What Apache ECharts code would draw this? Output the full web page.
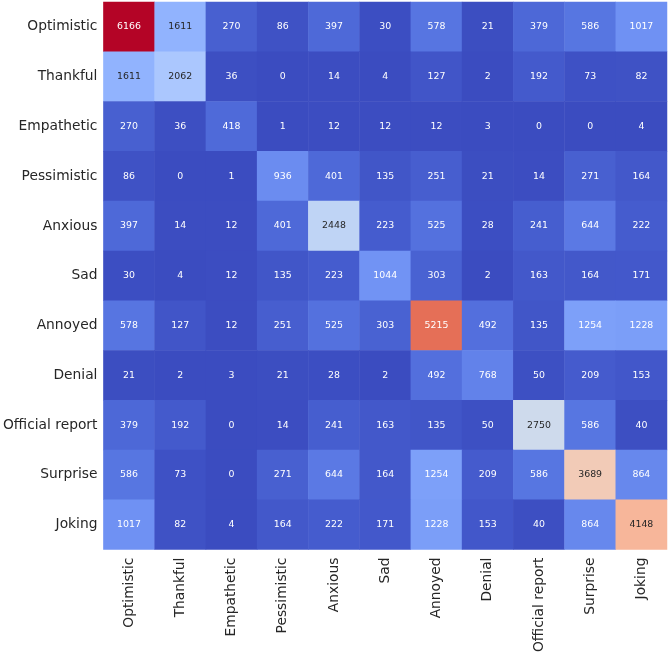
<!DOCTYPE html>
<html>
<head>
<meta charset="utf-8">
<script src="https://cdn.jsdelivr.net/npm/echarts@6/dist/echarts.min.js"></script>
<style>html,body{margin:0;padding:0;background:#fff;}#chart{width:669px;height:655px;}</style>
</head>
<body>
<div id="chart"></div>
<script>
const categories = ["Optimistic","Thankful","Empathetic","Pessimistic","Anxious","Sad","Annoyed","Denial","Official report","Surprise","Joking"];
const rowOptimistic    = [6166,1611,270,86,397,30,578,21,379,586,1017];
const rowThankful      = [1611,2062,36,0,14,4,127,2,192,73,82];
const rowEmpathetic    = [270,36,418,1,12,12,12,3,0,0,4];
const rowPessimistic   = [86,0,1,936,401,135,251,21,14,271,164];
const rowAnxious       = [397,14,12,401,2448,223,525,28,241,644,222];
const rowSad           = [30,4,12,135,223,1044,303,2,163,164,171];
const rowAnnoyed       = [578,127,12,251,525,303,5215,492,135,1254,1228];
const rowDenial        = [21,2,3,21,28,2,492,768,50,209,153];
const rowOfficial      = [379,192,0,14,241,163,135,50,2750,586,40];
const rowSurprise      = [586,73,0,271,644,164,1254,209,586,3689,864];
const rowJoking        = [1017,82,4,164,222,171,1228,153,40,864,4148];
const rows = [rowOptimistic,rowThankful,rowEmpathetic,rowPessimistic,rowAnxious,rowSad,rowAnnoyed,rowDenial,rowOfficial,rowSurprise,rowJoking];

// matplotlib coolwarm (Moreland) anchor table
const cw = [[59,76,192],[68,90,204],[77,104,215],[87,117,225],[98,130,234],[108,142,241],[119,154,247],[130,165,251],[141,176,254],[152,185,255],[163,194,255],[174,201,253],[184,208,249],[194,213,244],[204,217,238],[213,219,230],[221,221,221],[229,216,209],[236,211,197],[241,204,185],[245,196,173],[247,187,160],[247,177,148],[247,166,135],[244,154,123],[241,141,111],[236,127,99],[229,112,88],[222,96,77],[213,80,66],[203,62,56],[192,40,47],[180,4,38]];
const hex = c => '#' + c.map(v => Math.round(v).toString(16).padStart(2,'0')).join('');
const vmin = 0, vmax = Math.max(...rows.flat());
function cmap(v){
  let t = (v - vmin) / (vmax - vmin); t = Math.max(0, Math.min(1, t));
  const p = t * (cw.length - 1); const i = Math.min(Math.floor(p), cw.length - 2); const f = p - i;
  return cw[i].map((a, k) => a + (cw[i+1][k] - a) * f);
}
function textColor(v){
  const c = cmap(v).map(x => { x /= 255; return x <= 0.03928 ? x / 12.92 : Math.pow((x + 0.055) / 1.055, 2.4); });
  const lum = 0.2126*c[0] + 0.7152*c[1] + 0.0722*c[2];
  return lum > 0.408 ? '#262626' : '#ffffff';
}
const data = [];
rows.forEach((r, yi) => r.forEach((v, xi) => {
  data.push({ value: [xi, yi, v], itemStyle: { color: hex(cmap(v)) }, label: { color: textColor(v) } });
}));

const chart = echarts.init(document.getElementById('chart'), null, { renderer: 'canvas' });
const font = 'DejaVu Sans';
chart.setOption({
  animation: false,
  backgroundColor: '#ffffff',
  grid: { left: 103, right: 2, top: 2, bottom: 103, containLabel: false },
  xAxis: {
    type: 'category', data: categories,
    axisLine: { show: false }, axisTick: { show: false }, splitLine: { show: false },
    axisLabel: { rotate: 90, margin: 8, fontFamily: font, fontSize: 13.8, color: '#262626', interval: 0 }
  },
  yAxis: {
    type: 'category', data: categories, inverse: true,
    axisLine: { show: false }, axisTick: { show: false }, splitLine: { show: false },
    axisLabel: { margin: 6, fontFamily: font, fontSize: 13.8, color: '#262626', interval: 0 }
  },
  series: [{
    type: 'heatmap', data: data,
    label: { show: true, fontFamily: font, fontSize: 9.4, formatter: p => p.value[2] },
    itemStyle: { borderWidth: 0 }
  }]
});
</script>
</body>
</html>
